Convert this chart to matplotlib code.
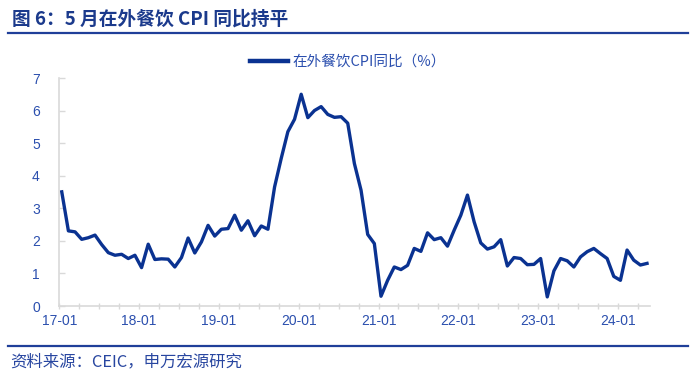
import numpy as np
import matplotlib
matplotlib.use('Agg')
import matplotlib.pyplot as plt
from matplotlib.lines import Line2D

plt.rcParams['font.family'] = ['Noto Sans CJK SC', 'DejaVu Sans']

# ── Données : CPI en-dehors (在外餐饮) glissement annuel, 2017-01 → 2024-05 ──
years = list(range(2017, 2025))
values = [
    3.51, 2.31, 2.28, 2.05, 2.10, 2.18, 1.89, 1.64, 1.56, 1.59, 1.46, 1.56,  # 2017
    1.18, 1.90, 1.43, 1.45, 1.44, 1.20, 1.49, 2.09, 1.63, 1.97, 2.48, 2.15,  # 2018
    2.36, 2.38, 2.79, 2.33, 2.62, 2.16, 2.46, 2.36, 3.66, 4.54, 5.36, 5.74,  # 2019
    6.51, 5.79, 6.01, 6.13, 5.89, 5.80, 5.82, 5.62, 4.38, 3.56, 2.20, 1.92,  # 2020
    0.30, 0.79, 1.20, 1.12, 1.25, 1.77, 1.68, 2.25, 2.04, 2.10, 1.84, 2.33,  # 2021
    2.79, 3.41, 2.59, 1.94, 1.75, 1.82, 2.04, 1.23, 1.49, 1.46, 1.27, 1.28,  # 2022
    1.46, 0.28, 1.08, 1.46, 1.39, 1.20, 1.51, 1.67, 1.77, 1.61, 1.46, 0.91,  # 2023
    0.79, 1.72, 1.41, 1.26, 1.31,                                            # 2024
]
year_labels = [f"{y % 100:02d}-01" for y in years]
series_name = "在外餐饮CPI同比（%）"
title = "图 6：5 月在外餐饮 CPI 同比持平"
source = "资料来源：CEIC，申万宏源研究"

NAVY = '#0a3291'
TXT = '#2b4fae'
GRID = '#d9d9d9'

fig = plt.figure(figsize=(7.0, 3.74), dpi=100)
ax = fig.add_axes([0.0847, 0.1818, 0.8439, 0.6088])

x = np.arange(len(values))
ax.plot(x, values, color=NAVY, lw=2.4, solid_joinstyle='round')

# axe des x : ticks trimestriels, étiquettes annuelles
off = 0.37
ax.set_xlim(-off, 88.45)
ax.set_ylim(0, 7)
ax.set_xticks([12 * i - off for i in range(len(years))])
ax.set_xticklabels(year_labels)
ax.set_xticks([3 * i - off for i in range(30) if i % 4], minor=True)
ax.tick_params(axis='x', which='both', direction='inout', length=5, width=1,
               color=GRID, labelcolor=TXT, labelsize=10, pad=3)
ax.set_yticks(range(8))
ax.tick_params(axis='y', direction='in', length=4, width=1, color=GRID,
               labelcolor=TXT, labelsize=10, pad=14)
for lab in ax.get_xticklabels() + ax.get_yticklabels():
    lab.set_family(['Liberation Sans', 'DejaVu Sans'])

for s in ['top', 'right']:
    ax.spines[s].set_visible(False)
for s in ['left', 'bottom']:
    ax.spines[s].set_color(GRID)
    ax.spines[s].set_linewidth(1.2)

# légende
handle = Line2D([], [], color=NAVY, lw=3.2)
fig.legend([handle], [series_name], loc='center', bbox_to_anchor=(0.497, 0.835),
           frameon=False, handlelength=2.6, handletextpad=0.3,
           prop={'size': 10.5}, labelcolor=TXT)

# titre + filets
fig.text(0.017, 0.948, title, fontsize=13.5, fontweight='bold', color='#1b3a8c',
         ha='left', va='center')
fig.add_artist(Line2D([0.012, 0.983], [1 - 32.5 / 374] * 2, color='#1f3f99', lw=1.6))
fig.add_artist(Line2D([0.012, 0.983], [1 - 345.7 / 374] * 2, color='#1f3f99', lw=1.6))
fig.text(0.014, 1 - 362 / 374, source, fontsize=11.8, color='#2846a0',
         ha='left', va='center')

plt.savefig('out.png', dpi=100)
plt.close()
